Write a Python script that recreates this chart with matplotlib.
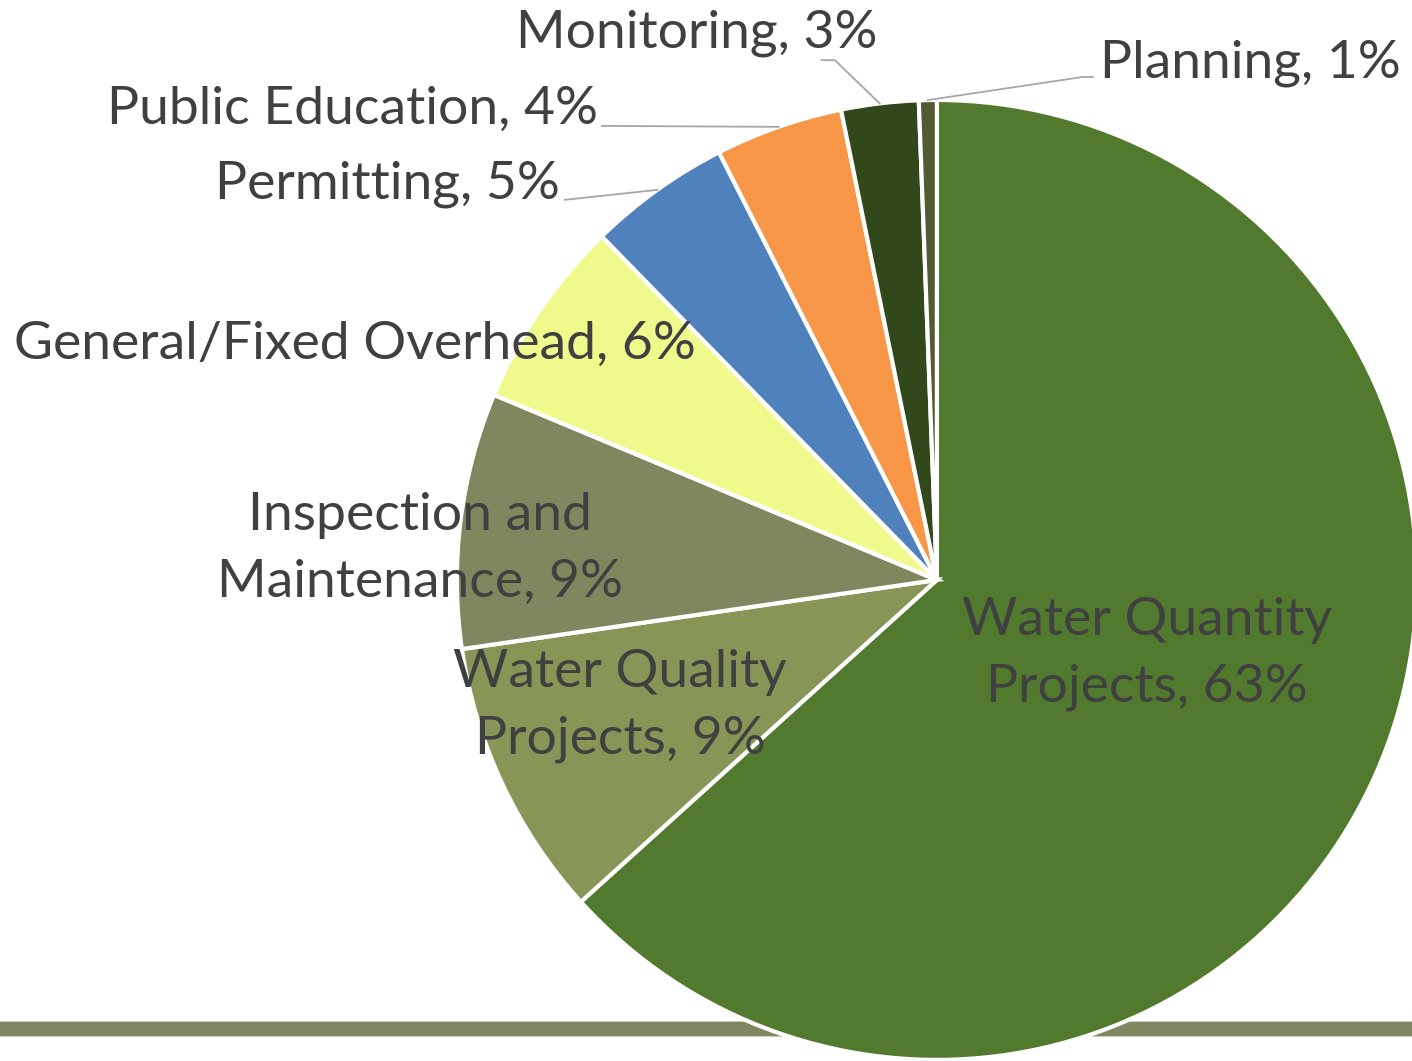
import numpy as np
import matplotlib
matplotlib.use('Agg')
import matplotlib.pyplot as plt

# budget shares, clockwise from 12 o'clock
categories = ['Water Quantity Projects', 'Water Quality Projects', 'Inspection and Maintenance',
              'General/Fixed Overhead', 'Permitting', 'Public Education', 'Monitoring', 'Planning']
shares = [63.3, 9.4, 8.6, 6.4, 4.8, 4.3, 2.6, 0.6]
label_text = ['Water Quantity\nProjects', 'Water Quality\nProjects', 'Inspection and\nMaintenance',
              'General/Fixed Overhead', 'Permitting', 'Public Education', 'Monitoring', 'Planning']

colors = ['#517A2F', '#879556', '#80865E', '#F0FA8C', '#4F81BD', '#F79646', '#30481A', '#525B32']

plt.rcParams['font.family'] = ['Lato', 'DejaVu Sans']
txt_color = '#404040'

fig = plt.figure(figsize=(14.12, 10.61), dpi=100)
ax = fig.add_axes([0, 0, 1, 1])

# decorative rule behind the pie
ax.plot([-2.5, 1.5], [-0.935, -0.935], color='#C8CCB4', lw=11.5, solid_capstyle='butt', zorder=0)
ax.plot([-2.5, 1.5], [-0.935, -0.935], color='#808660', lw=10, solid_capstyle='butt', zorder=0)

wedges, _ = ax.pie(shares, colors=colors, startangle=90, counterclock=False, radius=1.0,
                   wedgeprops=dict(edgecolor='white', linewidth=3))
for w in wedges:
    w.set_zorder(2)

# label placement (pie units, radius = 1)
label_pos = [(0.4375, -0.154), (-0.660, -0.262), (-1.077, 0.065), (-1.2125, 0.490),
             (-0.785, 0.825), (-0.706, 0.981), (-0.123, 1.140), (0.340, 1.077)]
label_ha = ['center', 'center', 'center', 'center', 'right', 'right', 'right', 'left']
# leader line end points (None = no leader)
leader_pts = [None, None, None, None,
              [(-0.775, 0.792)],
              [(-0.698, 0.946)],
              [(-0.2125, 1.083), (-0.240, 1.083)],
              [(0.304, 1.048), (0.325, 1.048)]]

for i, w in enumerate(wedges):
    pct = '{}%'.format(int(round(shares[i])))
    x, y = label_pos[i]
    ax.text(x, y, '{}, {}'.format(label_text[i], pct), ha=label_ha[i], va='center',
            fontsize=38.5, color=txt_color, linespacing=1.52, zorder=5)
    if leader_pts[i] is not None:
        mid = np.deg2rad((w.theta1 + w.theta2) / 2)
        xs = [np.cos(mid)] + [p[0] for p in leader_pts[i]]
        ys = [np.sin(mid)] + [p[1] for p in leader_pts[i]]
        ax.plot(xs, ys, color='#A6A6A6', lw=1.3, zorder=4)

ax.set_xlim(-1.952, 0.990)
ax.set_ylim(-1.002, 1.208)
ax.set_aspect('equal')
ax.axis('off')

fig.savefig('out.png', dpi=100)
